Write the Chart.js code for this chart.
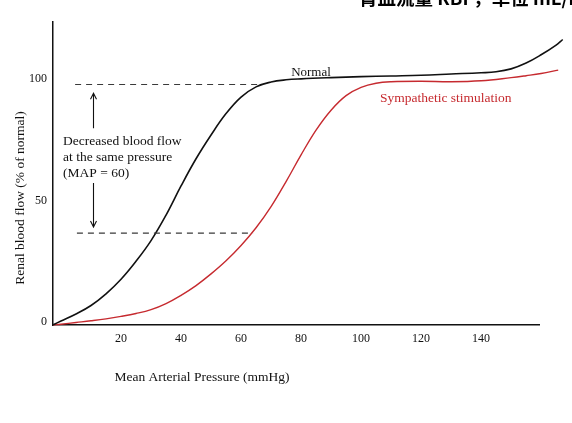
<!DOCTYPE html>
<html>
<head>
<meta charset="utf-8">
<script src="https://cdn.jsdelivr.net/npm/chart.js@4/dist/chart.umd.min.js"></script>
<style>
  html, body { margin: 0; padding: 0; background: #fff; overflow: hidden; }
  #wrap { position: relative; width: 572px; height: 423px; }
  #cut-title {
    position: absolute; left: 359px; top: -12px;
    font: bold 18.5px "Noto Sans CJK SC", sans-serif; line-height: 18px;
    white-space: nowrap; color: #000;
  }
  canvas { position: absolute; left: 0; top: 0; }
</style>
</head>
<body>
<div id="wrap">
  <canvas id="chart" width="572" height="423"></canvas>
  <div id="cut-title">肾血流量 RBF，单位 mL/min</div>
</div>
<script>
// Werte
const normalX = [-2.6, 0, 5, 10, 15, 20, 25, 30, 35, 40, 45, 50, 55, 60, 65, 70, 75, 80, 90, 100, 110, 120, 130, 140, 145, 150, 155, 160, 165, 167.2];
const normalY = [-1.1, 0.4, 3.3, 6.8, 11.6, 17.6, 25, 33.5, 44, 56, 67.2, 77, 85.8, 92.6, 96.8, 98.8, 99.7, 100.1, 100.6, 101, 101.3, 101.6, 102.1, 102.6, 103, 104.2, 106.6, 110, 114, 116.3];
const sympX = [-2.6, 0, 5, 10, 15, 20, 25, 30, 35, 40, 45, 50, 55, 60, 65, 70, 75, 80, 85, 90, 95, 100, 105, 110, 120, 130, 140, 150, 155, 160, 165.7];
const sympY = [-1.2, -0.9, -0.2, 0.5, 1.3, 2.3, 3.5, 5.1, 7.6, 11, 15, 19.8, 25.2, 31.5, 38.8, 47.5, 57.8, 68.8, 79, 87.2, 93.2, 96.6, 98.3, 98.9, 99.1, 98.9, 99.3, 100.6, 101.4, 102.3, 103.7];
const refLevels = [97.8, 36.6];   // gestrichelte Linien (% bei MAP = 60)
const refStart = [4.7, 5.3];
const refEnd = [65.5, 64];
const xTicks = [20, 40, 60, 80, 100, 120, 140];
const yTicks = [0, 50, 100];
const xRange = [-2.67, 159.3];
const yRange = [-1.23, 123.5];

const serif = '"Liberation Serif", "Times New Roman", serif';

function pts(xs, ys) {
    return xs.map((x, i) => ({ x: x, y: ys[i] }));
}

// Beschriftungen und Pfeile
const annotations = {
    id: 'annotations',
    afterDraw(chart) {
        const ctx = chart.ctx;
        const xs = chart.scales.x;
        const ys = chart.scales.y;
        ctx.save();
        ctx.fillStyle = '#111';
        ctx.font = '13.5px ' + serif;
        ctx.textBaseline = 'alphabetic';
        ctx.textAlign = 'left';
        ctx.fillText('Decreased blood flow', xs.getPixelForValue(0.7), 145);
        ctx.fillText('at the same pressure', xs.getPixelForValue(0.7), 161);
        ctx.fillText('(MAP = 60)', xs.getPixelForValue(0.7), 177);
        ctx.font = '13px ' + serif;
        ctx.fillText('Normal', xs.getPixelForValue(76.7), 76);
        ctx.font = '13.5px ' + serif;
        ctx.fillStyle = '#c62a2f';
        ctx.fillText('Sympathetic stimulation', xs.getPixelForValue(106.3), 102);

        // Pfeile
        ctx.strokeStyle = '#111';
        ctx.lineWidth = 1.1;
        const ax = Math.round(xs.getPixelForValue(10.7)) + 0.5;
        const arrow = (from, to) => {
            const y1 = ys.getPixelForValue(from);
            const y2 = ys.getPixelForValue(to);
            const dir = y2 > y1 ? 1 : -1;
            ctx.beginPath();
            ctx.moveTo(ax, y1);
            ctx.lineTo(ax, y2);
            ctx.moveTo(ax - 3, y2 - dir * 6);
            ctx.lineTo(ax, y2);
            ctx.lineTo(ax + 3, y2 - dir * 6);
            ctx.stroke();
        };
        arrow(79.8, 94.2);
        arrow(57.2, 39.1);

        // Achsentitel
        ctx.fillStyle = '#111';
        ctx.textAlign = 'center';
        ctx.textBaseline = 'middle';
        ctx.font = '13.5px ' + serif;
        ctx.fillText('Mean Arterial Pressure (mmHg)', 202, 377);
        ctx.translate(20, 198);
        ctx.rotate(-Math.PI / 2);
        ctx.fillText('Renal blood flow (% of normal)', 0, 0);
        ctx.restore();
    }
};

const datasets = refLevels.map((lvl, i) => ({
    data: [{ x: refStart[i], y: lvl }, { x: refEnd[i], y: lvl }],
    borderColor: '#3a3a3a',
    borderWidth: 1.1,
    borderDash: [6, 5],
    pointRadius: 0
}));
datasets.push({
    data: pts(normalX, normalY),
    borderColor: '#111',
    borderWidth: 1.6,
    pointRadius: 0,
    tension: 0.4,
    clip: false
});
datasets.push({
    data: pts(sympX, sympY),
    borderColor: '#c62a2f',
    borderWidth: 1.4,
    pointRadius: 0,
    tension: 0.4,
    clip: false
});

// Grenzen nachträglich setzen, damit die Kurven über das Achsenende hinaus gezeichnet werden
function fixRange(range, ticks) {
    return s => {
        s.ticks = ticks.map(v => ({ value: v }));
        s.min = range[0];
        s.max = range[1];
    };
}

const ctx = document.getElementById('chart').getContext('2d');
new Chart(ctx, {
    type: 'line',
    data: { datasets: datasets },
    options: {
        responsive: false,
        animation: false,
        layout: { padding: { top: 22, right: 33, left: 0, bottom: 0 } },
        plugins: { legend: { display: false }, tooltip: { enabled: false } },
        scales: {
            x: {
                type: 'linear',
                bounds: 'data',
                grid: { display: false, drawTicks: false },
                border: { display: true, color: '#111', width: 1.5 },
                ticks: { color: '#111', font: { family: serif, size: 12 }, padding: 7, maxRotation: 0, autoSkip: false },
                afterBuildTicks: fixRange(xRange, xTicks),
                afterFit: s => { s.height = 98; }
            },
            y: {
                bounds: 'data',
                grid: { display: false, drawTicks: false },
                border: { display: true, color: '#111', width: 1.5 },
                ticks: { color: '#111', font: { family: serif, size: 12 }, padding: 6, autoSkip: false },
                afterBuildTicks: fixRange(yRange, yTicks),
                afterFit: s => { s.width = 53; }
            }
        }
    },
    plugins: [annotations]
});
</script>
</body>
</html>
